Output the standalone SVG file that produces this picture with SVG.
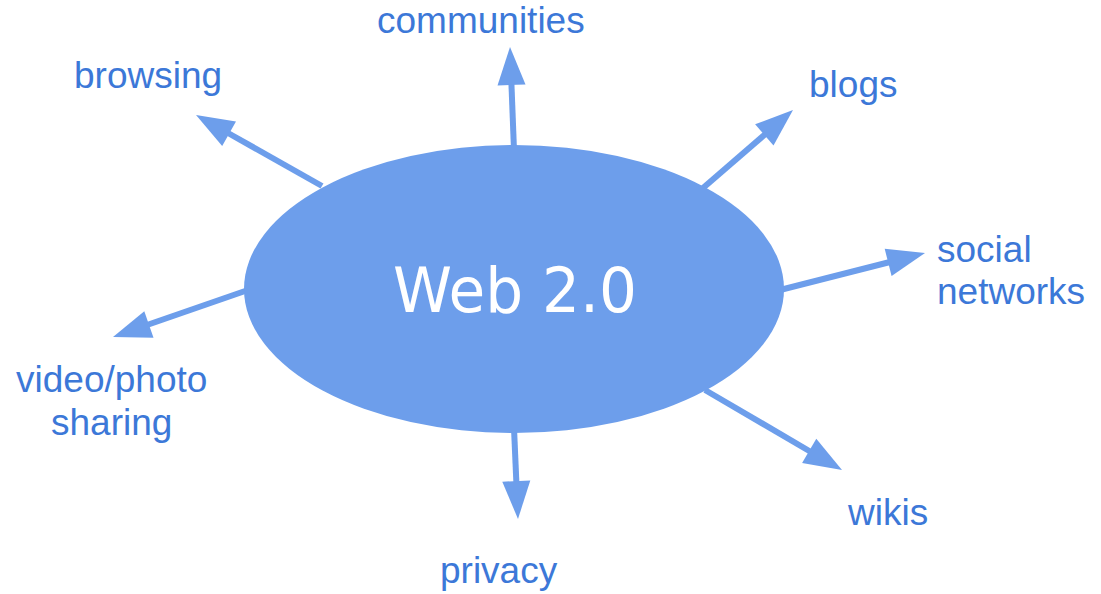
<svg xmlns="http://www.w3.org/2000/svg" width="1101" height="594" viewBox="0 0 1101 594">
<style>
.lbl{font-family:"Liberation Sans",Arial,sans-serif;font-size:37px;fill:#3c78d8}
.cn line{stroke:#6d9eeb;stroke-width:6;fill:none}
.cn polygon{fill:#6d9eeb}
</style>
<g id="connectors" class="cn">
<line x1="514" y1="150" x2="511.4" y2="83"/>
<polygon points="510,47 525.5,84.4 497.5,85.5"/>
<line x1="322" y1="186" x2="228" y2="133"/>
<polygon points="196,115 236,121.5 222.2,145.9"/>
<line x1="703" y1="188" x2="766" y2="133.5"/>
<polygon points="793,110 773.5,145.5 755.1,124.3"/>
<line x1="780" y1="290" x2="890" y2="262"/>
<polygon points="925,253 891.6,276 884.7,248.8"/>
<line x1="248" y1="290" x2="147" y2="325"/>
<polygon points="113,337 144.3,311.3 153.5,337.7"/>
<line x1="705" y1="390" x2="811" y2="452"/>
<polygon points="842,470 802.1,462.9 816.3,438.8"/>
<line x1="514" y1="428" x2="516.4" y2="483"/>
<polygon points="518,519 502.3,481.7 530.3,480.4"/>
</g>
<g id="web20">
<ellipse cx="514" cy="289" rx="270" ry="144" fill="#6d9eeb"/>
<text x="515" y="312" text-anchor="middle" font-family="'DejaVu Sans',sans-serif" font-size="62" fill="#ffffff" textLength="244" lengthAdjust="spacingAndGlyphs">Web 2.0</text>
</g>
<g id="communities"><text class="lbl" x="377" y="33">communities</text></g>
<g id="browsing"><text class="lbl" x="74" y="88">browsing</text></g>
<g id="blogs"><text class="lbl" x="809" y="97">blogs</text></g>
<g id="social"><text class="lbl" x="937" y="262">social</text><text class="lbl" x="937" y="304">networks</text></g>
<g id="video"><text class="lbl" x="16" y="392">video/photo</text><text class="lbl" x="51" y="435">sharing</text></g>
<g id="wikis"><text class="lbl" x="848" y="525">wikis</text></g>
<g id="privacy"><text class="lbl" x="440" y="583">privacy</text></g>
</svg>
